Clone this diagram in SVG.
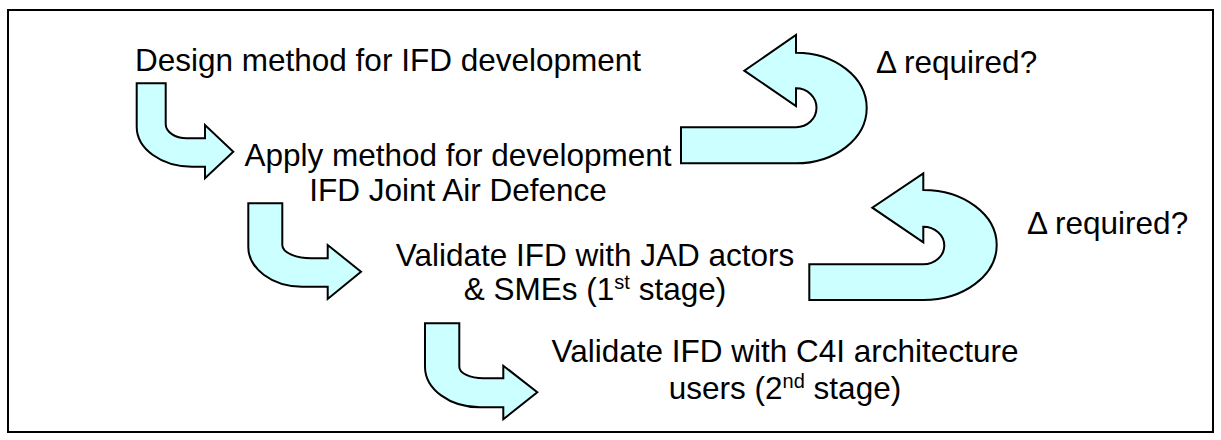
<svg xmlns="http://www.w3.org/2000/svg" width="1221" height="440" viewBox="0 0 1221 440">
  <style>
    .frame { fill: #ffffff; stroke: #000000; stroke-width: 2; }
    .arrow { fill: #CCFFFF; stroke: #000000; stroke-width: 2; stroke-linejoin: miter; }
    .t { font-family: "Liberation Sans", Arial, sans-serif; font-size: 31.5px; fill: #000000; }
    .c { text-anchor: middle; }
    .sup { font-size: 20px; }
  </style>
  <rect class="frame" x="8" y="10" width="1205" height="422"/>
  <g id="connectors">
    <path id="bent1" class="arrow" d="M136.7,83.3 H165.7 V124 A21 14.3 0 0 0 186.7,138.3 H205 V125 L233.3,151.7 L205,178.3 V166.7 H192 A55.3 40 0 0 1 136.7,126.7 Z"/>
    <path id="bent2" class="arrow" d="M248.3,203.3 H282.3 V245 A29 13.3 0 0 0 311.3,258.3 H327.7 V245 L361,271.7 L327.7,299 V286.7 H302 A53.7 40 0 0 1 248.3,246.7 Z"/>
    <path id="bent3" class="arrow" d="M425,323.3 H459.3 V366.7 A24 11.6 0 0 0 483.3,378.3 H503.3 V365.7 L537.3,392.3 L503.3,419.3 V407.3 H480 A55 40.6 0 0 1 425,366.7 Z"/>
    <path id="uturn1" class="arrow" d="M681,127.3 H796 A20.5 19.5 0 0 0 796,88.3 V106 L744.3,70.7 L796,35 V52.7 A70.7 55.3 0 0 1 796,163.3 H681 Z"/>
    <path id="uturn2" class="arrow" d="M809.3,264.3 H923.3 A21 18.8 0 0 0 923.3,226.7 V242.3 L872.3,207.7 L923.3,173.3 V190 A73.4 55 0 0 1 923.3,300 H809.3 Z"/>
  </g>
  <g id="step1">
    <text class="t" x="135" y="71">Design method for IFD development</text>
  </g>
  <g id="step2">
    <text class="t c" x="458" y="166">Apply method for development</text>
    <text class="t c" x="458" y="201">IFD Joint Air Defence</text>
  </g>
  <g id="step3">
    <text class="t c" x="595" y="266">Validate IFD with JAD actors</text>
    <text class="t c" x="595" y="300">&amp; SMEs (1<tspan class="sup" dy="-11">st</tspan><tspan dy="11"> stage)</tspan></text>
  </g>
  <g id="step4">
    <text class="t c" x="785" y="362">Validate IFD with C4I architecture</text>
    <text class="t c" x="785" y="399">users (2<tspan class="sup" dy="-11">nd</tspan><tspan dy="11"> stage)</tspan></text>
  </g>
  <g id="label1">
    <text class="t" x="876" y="73">Δ required?</text>
  </g>
  <g id="label2">
    <text class="t" x="1027" y="234">Δ required?</text>
  </g>
</svg>
